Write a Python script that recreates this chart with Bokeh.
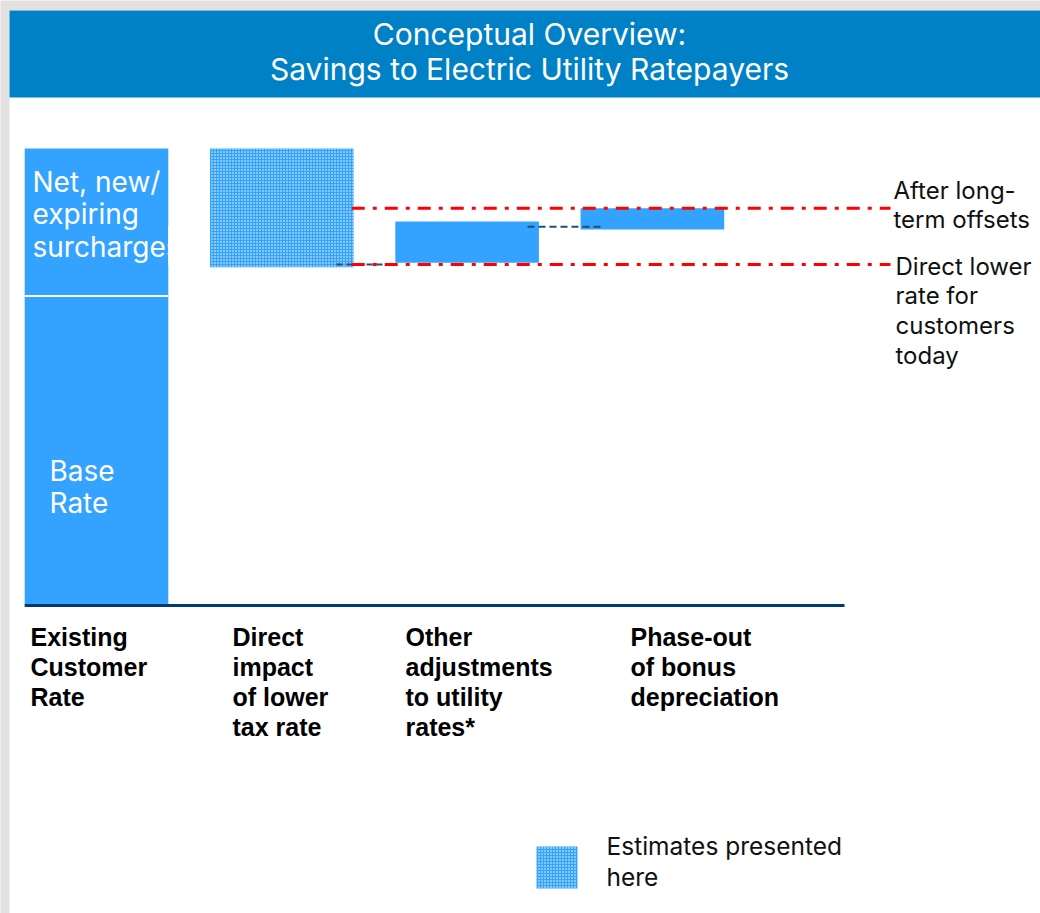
from bokeh.plotting import figure
from bokeh.models import Range1d, ColumnDataSource
from bokeh.core.properties import value
from bokeh.embed import file_html
from bokeh.resources import INLINE

# ---------------- data (conceptual units; existing rate = 100) ----------------
categories = ["Existing\nCustomer\nRate",
              "Direct\nimpact\nof lower\ntax rate",
              "Other\nadjustments\nto utility\nrates*",
              "Phase-out\nof bonus\ndepreciation"]
bar_bottom = [0.0, 74.0, 75.0, 82.3]
bar_top = [100.0, 100.0, 84.0, 86.9]
base_rate_top = 67.7
estimated = [False, True, False, False]
level_names = ["After long-\nterm offsets", "Direct lower\nrate for\ncustomers\ntoday"]
level_values = [86.9, 74.6]
connector_values = [74.6, 82.9]
stack_names = ["Net, new/\nexpiring\nsurcharges", "Base\nRate"]
title_text = "Conceptual Overview:\nSavings to Electric Utility Ratepayers"
legend_text = "Estimates presented\nhere"

# ---------------- layout ----------------
W, H = 1040, 913
S = 185.3      # px per category
K = 4.57       # px per value unit
X0_PX = 96     # page x of first category centre
Y0_PX = 605    # page y of value 0
BW = 0.775     # bar width in category units

BLUE = "#33a3ff"
BAND = "#0081c6"
NAVY = "#003a70"
GRAY = "#e3e1df"


def fx(px):
    return (px - X0_PX) / S


def fy(py):
    return (Y0_PX - py) / K


p = figure(width=W, height=H,
           x_range=Range1d(fx(0), fx(W)), y_range=Range1d(fy(H), fy(0)),
           output_backend="svg", toolbar_location=None, min_border=0)
p.axis.visible = False
p.grid.visible = False
p.outline_line_color = None
p.background_fill_color = GRAY
p.border_fill_color = GRAY

# white panel and title band
p.quad(left=[fx(9)], right=[fx(W + 1)], bottom=[fy(H + 1)], top=[fy(10)],
       fill_color="white", line_color=None)
p.quad(left=[fx(9)], right=[fx(W + 1)], bottom=[fy(97)], top=[fy(10)],
       fill_color=BAND, line_color=None)
p.text(x=[fx(529)], y=[fy(15)], text=[title_text], text_align="center",
       text_baseline="top", text_color="white", text_font=value("Inter"),
       text_font_size="30px", text_line_height=0.99)

xs = list(range(len(categories)))

# existing customer rate: base + surcharges
p.vbar(x=[xs[0]], bottom=[0], top=[base_rate_top], width=BW,
       fill_color=BLUE, line_color=None)
p.vbar(x=[xs[0]], bottom=[base_rate_top], top=[bar_top[0]], width=BW,
       fill_color=BLUE, line_color=None)
p.segment(x0=[xs[0] - BW / 2], x1=[xs[0] + BW / 2], y0=[base_rate_top], y1=[base_rate_top],
          line_color="white", line_width=2)

# remaining bars
solid = ColumnDataSource(dict(
    x=[xs[i] for i in range(1, 4) if not estimated[i]],
    bottom=[bar_bottom[i] for i in range(1, 4) if not estimated[i]],
    top=[bar_top[i] for i in range(1, 4) if not estimated[i]]))
hatched = ColumnDataSource(dict(
    x=[xs[i] for i in range(1, 4) if estimated[i]],
    bottom=[bar_bottom[i] for i in range(1, 4) if estimated[i]],
    top=[bar_top[i] for i in range(1, 4) if estimated[i]]))

p.vbar(x="x", bottom="bottom", top="top", width=BW, source=hatched,
       fill_color=BLUE, line_color=None, hatch_pattern="dot",
       hatch_color="white", hatch_scale=3, hatch_weight=1)
p.vbar(x="x", bottom="bottom", top="top", width=BW, source=solid,
       fill_color=BLUE, line_color=None)

# connectors (dark dashed)
p.segment(x0=[fx(336)], x1=[fx(393)], y0=[connector_values[0]], y1=[connector_values[0]],
          line_color="#1f4e79", line_width=2, line_dash="6 4")
p.segment(x0=[fx(527)], x1=[fx(600)], y0=[connector_values[1]], y1=[connector_values[1]],
          line_color="#1f4e79", line_width=2, line_dash="7 4")

# red reference levels
p.segment(x0=[xs[1] + BW / 2 - 0.01] * 2, x1=[fx(890)] * 2,
          y0=level_values, y1=level_values,
          line_color="red", line_width=3, line_dash="13 8 4 8")

# baseline
p.segment(x0=[xs[0] - BW / 2], x1=[fx(844)], y0=[0], y1=[0],
          line_color=NAVY, line_width=3)

# labels inside existing bar
p.text(x=[fx(32)], y=[fy(164)], text=[stack_names[0]], text_baseline="top",
       text_color="white", text_font=value("Inter"), text_font_size="28px",
       text_line_height=0.96)
p.text(x=[fx(49)], y=[fy(453)], text=[stack_names[1]], text_baseline="top",
       text_color="white", text_font=value("Inter"), text_font_size="28px",
       text_line_height=0.96)
# clip overflowing label at the bar edge
p.quad(left=[xs[0] + BW / 2], right=[fx(205)], bottom=[fy(265)], top=[fy(225)],
       fill_color="white", line_color=None)

# category labels
p.text(x=[fx(v) for v in (30, 232, 405, 630)], y=[fy(622)] * 4, text=categories,
       text_baseline="top", text_color="black", text_font=value("Liberation Sans"),
       text_font_style="bold", text_font_size="25px", text_line_height=1.075)

# level annotations
p.text(x=[fx(893), fx(895)], y=[fy(175), fy(251)], text=level_names,
       text_baseline="top", text_color="#111111", text_font=value("Inter"),
       text_font_size="24px", text_line_height=1.033)

# legend
p.quad(left=[fx(536)], right=[fx(577)], bottom=[fy(888)], top=[fy(846)],
       fill_color=BLUE, line_color=None, hatch_pattern="dot",
       hatch_color="white", hatch_scale=3, hatch_weight=1)
p.text(x=[fx(606)], y=[fy(830)], text=[legend_text], text_baseline="top",
       text_color="#111111", text_font=value("Inter"), text_font_size="24.5px",
       text_line_height=1.046)

open("out.html", "w").write(file_html(p, INLINE))
